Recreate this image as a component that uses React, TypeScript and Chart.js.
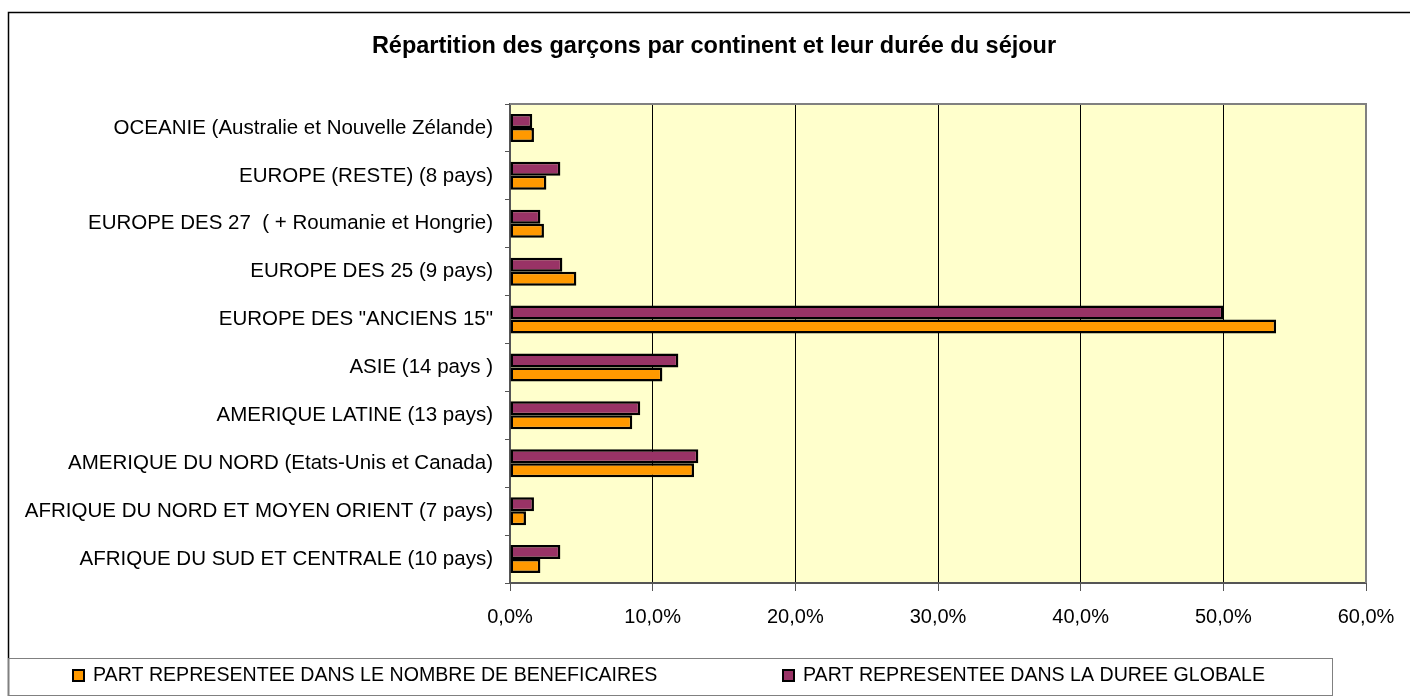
import React, { useEffect, useRef } from "react";
import { Chart, registerables } from "chart.js";

Chart.register(...registerables);

const TITLE = "Répartition des garçons par continent et leur durée du séjour";

const categories = [
  "OCEANIE (Australie et Nouvelle Zélande)",
  "EUROPE (RESTE) (8 pays)",
  "EUROPE DES 27  ( + Roumanie et Hongrie)",
  "EUROPE DES 25 (9 pays)",
  'EUROPE DES "ANCIENS 15"',
  "ASIE (14 pays )",
  "AMERIQUE LATINE (13 pays)",
  "AMERIQUE DU NORD (Etats-Unis et Canada)",
  "AFRIQUE DU NORD ET MOYEN ORIENT (7 pays)",
  "AFRIQUE DU SUD ET CENTRALE (10 pays)",
];

const dureeLabel = "PART REPRESENTEE DANS LA DUREE GLOBALE";
const dureeValues = [1.56, 3.53, 2.13, 3.67, 50.0, 11.8, 9.13, 13.2, 1.68, 3.53];

const beneficiairesLabel = "PART REPRESENTEE DANS LE NOMBRE DE BENEFICAIRES";
const beneficiairesValues = [1.68, 2.55, 2.38, 4.65, 53.7, 10.68, 8.57, 12.9, 1.12, 2.13];

const xMin = 0;
const xMax = 60;
const xStep = 10;

const PURPLE = "#993366";
const ORANGE = "#FF9900";
const FONT = "'Liberation Sans', Arial, sans-serif";

const W = 1410;
const H = 696;

const decorPlugin = {
  id: "decor",
  beforeDraw(chart: any) {
    const { ctx, chartArea: a } = chart;
    ctx.save();
    ctx.fillStyle = "#FFFFFF";
    ctx.fillRect(0, 0, W, H);
    ctx.fillStyle = "#FFFFCC";
    ctx.fillRect(a.left, a.top, a.right - a.left, a.bottom - a.top);
    ctx.restore();
  },
  afterDraw(chart: any) {
    const { ctx, chartArea: a } = chart;
    ctx.save();
    // plot border top/right
    ctx.strokeStyle = "#808080";
    ctx.lineWidth = 2;
    ctx.beginPath();
    ctx.moveTo(a.left, a.top);
    ctx.lineTo(a.right, a.top);
    ctx.lineTo(a.right, a.bottom);
    ctx.stroke();
    // outer border
    ctx.strokeStyle = "#000000";
    ctx.lineWidth = 1.5;
    ctx.strokeRect(8.5, 12.5, W + 20, H + 20);
    // title
    ctx.fillStyle = "#000";
    ctx.font = `bold 23.5px ${FONT}`;
    ctx.textAlign = "center";
    ctx.textBaseline = "middle";
    ctx.fillText(TITLE, 714, 47);
    // legend box
    ctx.strokeStyle = "#808080";
    ctx.lineWidth = 1;
    ctx.strokeRect(8.5, 658.5, 1332 - 8, 695 - 658);
    const items = [
      { ds: chart.data.datasets[1], x: 72 },
      { ds: chart.data.datasets[0], x: 782 },
    ];
    ctx.font = `19.6px ${FONT}`;
    ctx.textAlign = "left";
    for (const it of items) {
      ctx.fillStyle = it.ds.backgroundColor;
      ctx.fillRect(it.x, 669, 13, 13);
      ctx.strokeStyle = "#000";
      ctx.lineWidth = 2;
      ctx.strokeRect(it.x + 1, 670, 11, 11);
      ctx.fillStyle = "#000";
      ctx.fillText(it.ds.label, it.x + 21, 676);
    }
    ctx.restore();
  },
};

export default function App() {
  const ref = useRef<HTMLCanvasElement | null>(null);

  useEffect(() => {
    if (!ref.current) return;
    const chart = new Chart(ref.current, {
      type: "bar",
      data: {
        labels: categories,
        datasets: [
          {
            label: dureeLabel,
            data: dureeValues,
            backgroundColor: PURPLE,
            borderColor: "#000",
            borderWidth: 2.5,
            borderSkipped: false,
            categoryPercentage: 0.585,
            barPercentage: 1,
          },
          {
            label: beneficiairesLabel,
            data: beneficiairesValues,
            backgroundColor: ORANGE,
            borderColor: "#000",
            borderWidth: 2.5,
            borderSkipped: false,
            categoryPercentage: 0.585,
            barPercentage: 1,
          },
        ],
      },
      options: {
        indexAxis: "y",
        responsive: false,
        animation: false,
        devicePixelRatio: 1,
        layout: { padding: { left: 0, right: 44, top: 104, bottom: 60 } },
        plugins: {
          legend: { display: false },
          title: { display: false },
          tooltip: { enabled: false },
        },
        scales: {
          x: {
            min: xMin,
            max: xMax,
            ticks: {
              stepSize: xStep,
              color: "#000",
              font: { family: FONT, size: 20 },
              padding: 14,
              callback: (v: any) => Number(v).toFixed(1).replace(".", ",") + "%",
            },
            grid: {
              color: "#000",
              lineWidth: 1,
              tickColor: "#555",
              tickLength: 8,
            },
            border: { color: "#555", width: 2 },
            afterFit: (s: any) => {
              s.height = 53;
            },
          },
          y: {
            ticks: {
              color: "#000",
              font: { family: FONT, size: 20.5 },
              padding: 12,
              autoSkip: false,
            },
            grid: {
              drawOnChartArea: false,
              offset: true,
              tickColor: "#555",
              tickLength: 5,
            },
            border: { color: "#555", width: 2 },
            afterFit: (s: any) => {
              s.width = 510;
            },
          },
        },
      },
      plugins: [decorPlugin],
    });
    return () => chart.destroy();
  }, []);

  return (
    <div style={{ position: "fixed", left: 0, top: 0, width: W, height: H }}>
      <canvas ref={ref} width={W} height={H} style={{ display: "block", width: W, height: H }} />
    </div>
  );
}
